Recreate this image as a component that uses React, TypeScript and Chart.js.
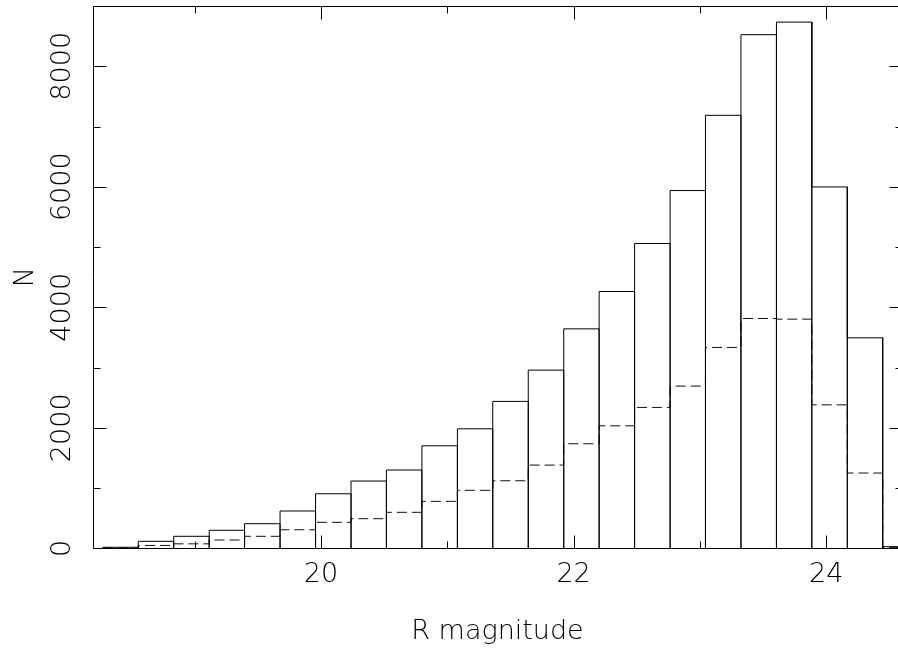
import { useEffect, useRef } from 'react';
import { Chart, registerables } from 'chart.js';

Chart.register(...registerables);

// Bin edges of the histogram (R magnitude)
const binEdges = [
  18.273, 18.553, 18.834, 19.115, 19.395, 19.676, 19.957, 20.238, 20.518, 20.799,
  21.080, 21.360, 21.641, 21.922, 22.202, 22.483, 22.764, 23.044, 23.325, 23.606,
  23.886, 24.167, 24.447, 24.728,
];
// Solid histogram: all objects per bin
const allCounts = [
  17, 116, 199, 299, 408, 619, 905, 1116, 1299, 1701, 1983, 2438, 2957, 3642, 4262,
  5058, 5937, 7186, 8524, 8733, 5997, 3493, 27,
];
// Dashed histogram: subset per bin
const subsetCounts = [
  5, 47, 74, 138, 199, 308, 431, 491, 597, 779, 962, 1121, 1381, 1735, 2033,
  2338, 2692, 3333, 3814, 3803, 2381, 1249, 15,
];
const xRange = [18.195, 24.6];
const yRange = [0, 9000];
const xMajorStep = 2;
const yMajorStep = 2000;
const xTitle = 'R magnitude';
const yTitle = 'N';

const FONT = { family: 'DejaVu Sans', size: 27, weight: '200' as const };

function outlinePoints(edges: number[], counts: number[]) {
  const pts: { x: number; y: number }[] = [];
  counts.forEach((c, i) => {
    pts.push({ x: edges[i], y: 0 }, { x: edges[i], y: c }, { x: edges[i + 1], y: c }, { x: edges[i + 1], y: 0 });
  });
  return pts;
}

function stepPoints(edges: number[], counts: number[]) {
  const pts: { x: number; y: number }[] = [{ x: edges[0], y: 0 }];
  counts.forEach((c, i) => {
    pts.push({ x: edges[i], y: c }, { x: edges[i + 1], y: c });
  });
  pts.push({ x: edges[edges.length - 1], y: 0 });
  return pts;
}

const isMultiple = (v: number, step: number) => Math.abs(v / step - Math.round(v / step)) < 1e-6;

const framePlugin = {
  id: 'frameTicks',
  afterDatasetsDraw(chart: any) {
    const { ctx, chartArea: a, scales } = chart;
    const xs = scales.x;
    const ys = scales.y;
    const L = Math.round(a.left) + 0.5;
    const R = Math.round(a.right) + 0.5;
    const T = Math.round(a.top) + 0.5;
    const B = Math.floor(a.bottom) + 0.5;
    ctx.save();
    ctx.strokeStyle = '#000';
    ctx.lineWidth = 1;
    ctx.setLineDash([]);
    ctx.beginPath();
    ctx.rect(L, T, R - L, B - T);
    xs.ticks.forEach((t: any) => {
      const px = Math.round(xs.getPixelForValue(t.value)) + 0.5;
      const len = isMultiple(t.value, xMajorStep) ? 13 : 7;
      ctx.moveTo(px, B);
      ctx.lineTo(px, B - len);
      ctx.moveTo(px, T);
      ctx.lineTo(px, T + len);
    });
    ys.ticks.forEach((t: any) => {
      const py = Math.round(ys.getPixelForValue(t.value)) + 0.5;
      const len = isMultiple(t.value, yMajorStep) ? 13 : 7;
      ctx.moveTo(L, py);
      ctx.lineTo(L + len, py);
      ctx.moveTo(R, py);
      ctx.lineTo(R - len, py);
    });
    ctx.stroke();
    ctx.restore();
  },
};

export default function App() {
  const ref = useRef<HTMLCanvasElement | null>(null);

  useEffect(() => {
    if (!ref.current) return;
    const chart = new Chart(ref.current, {
      type: 'line',
      data: {
        datasets: [
          {
            label: 'all',
            data: outlinePoints(binEdges, allCounts),
            borderColor: '#000',
            borderWidth: 1,
            pointRadius: 0,
            fill: false,
            tension: 0,
          },
          {
            label: 'subset',
            data: stepPoints(binEdges, subsetCounts),
            borderColor: '#111',
            borderWidth: 1,
            borderDash: [10, 5],
            pointRadius: 0,
            fill: false,
            tension: 0,
          },
        ],
      },
      options: {
        responsive: false,
        animation: false,
        events: [],
        layout: { padding: { top: 6, right: 8, left: 0, bottom: 0 } },
        plugins: { legend: { display: false }, tooltip: { enabled: false } },
        scales: {
          x: {
            type: 'linear',
            min: xRange[0],
            max: xRange[1],
            offset: false,
            grid: { display: false, drawTicks: false },
            border: { display: false },
            ticks: {
              stepSize: 1,
              includeBounds: false,
              autoSkip: false,
              minRotation: 0,
              maxRotation: 0,
              padding: 10.5,
              color: '#000',
              font: FONT,
              callback: (v: any) => (isMultiple(Number(v), xMajorStep) ? String(Math.round(Number(v))) : ''),
            },
            title: { display: true, text: xTitle, color: '#000', font: FONT, padding: { top: 0, bottom: 1 } },
            afterFit: (s: any) => {
              s.height = 100.7;
              s.paddingLeft = 0;
              s.paddingRight = 0;
            },
          },
          y: {
            type: 'linear',
            min: yRange[0],
            max: yRange[1],
            grid: { display: false, drawTicks: false },
            border: { display: false },
            ticks: {
              stepSize: 1000,
              autoSkip: false,
              minRotation: 90,
              maxRotation: 90,
              crossAlign: 'center',
              padding: -4.6,
              color: '#000',
              font: FONT,
              callback: (v: any) => (isMultiple(Number(v), yMajorStep) ? String(Math.round(Number(v))) : ''),
            },
            title: { display: true, text: yTitle, color: '#000', font: FONT, padding: { top: 9.6, bottom: 0 } },
            afterFit: (s: any) => {
              s.width = 93;
              s.paddingTop = 0;
              s.paddingBottom = 0;
            },
          },
        },
      },
      plugins: [framePlugin],
    });
    return () => chart.destroy();
  }, []);

  return (
    <div
      style={{
        position: 'fixed',
        left: 0,
        top: 0,
        width: 898,
        height: 649,
        overflow: 'hidden',
        background: '#fff',
      }}
    >
      <canvas ref={ref} width={910} height={649} style={{ display: 'block', width: 910, height: 649 }} />
    </div>
  );
}
